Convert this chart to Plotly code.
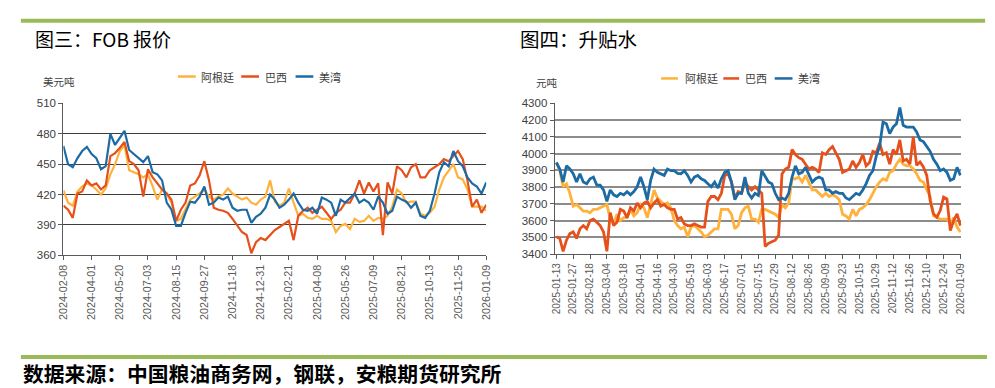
import plotly.graph_objects as go

# ---------------- data ----------------
left_ticks = ["2024-02-08", "2024-04-01", "2024-05-20", "2024-07-03", "2024-08-15", "2024-09-27",
              "2024-11-18", "2024-12-31", "2025-02-21", "2025-04-08", "2025-05-26", "2025-07-09",
              "2025-08-21", "2025-10-13", "2025-11-25", "2026-01-09"]
left_per_tick = 6  # samples between two tick labels

fob_argentina = [424, 412, 409, 423, 428, 431, 429, 425, 420, 426, 440, 450, 463, 469, 444, 442, 440, 437,
                 440, 428, 415, 425, 421, 412, 394, 396, 405, 415, 418, 421, 425, 418, 415, 418, 420, 426,
                 421, 418, 415, 417, 412, 410, 415, 418, 434, 413, 409, 412, 426, 412, 399, 401, 397, 396,
                 399, 396, 396, 394, 383, 389, 391, 386, 396, 393, 394, 399, 394, 397, 396, 399, 408, 425,
                 421, 412, 413, 413, 401, 399, 402, 408, 425, 437, 444, 450, 437, 435, 425, 408, 408, 408, 404]
fob_brazil = [409, 405, 397, 421, 423, 434, 429, 431, 425, 429, 458, 461, 466, 472, 453, 450, 444, 418,
              445, 437, 431, 425, 421, 415, 394, 405, 412, 429, 431, 439, 453, 434, 407, 405, 404, 402,
              396, 389, 383, 380, 362, 373, 377, 375, 380, 385, 388, 391, 394, 375, 399, 404, 407, 402,
              405, 408, 402, 396, 402, 405, 412, 412, 421, 434, 421, 432, 423, 431, 380, 432, 421, 448,
              444, 437, 447, 450, 437, 437, 444, 447, 450, 455, 453, 458, 463, 455, 434, 408, 415, 402, 410]
fob_usgulf = [468, 450, 447, 456, 463, 467, 460, 456, 445, 448, 480, 469, 476, 483, 464, 460, 456, 452,
              458, 442, 440, 434, 412, 405, 389, 389, 402, 413, 412, 418, 428, 410, 412, 417, 415, 418,
              407, 404, 405, 405, 392, 398, 401, 407, 420, 415, 407, 410, 415, 421, 412, 405, 404, 407,
              401, 417, 415, 412, 399, 415, 412, 417, 421, 412, 415, 412, 405, 418, 412, 401, 404, 418,
              415, 413, 407, 412, 399, 397, 404, 421, 442, 452, 448, 463, 453, 448, 437, 431, 428, 421, 432]

right_ticks = ["2025-01-13", "2025-01-27", "2025-02-18", "2025-03-04", "2025-03-18", "2025-04-01",
               "2025-04-16", "2025-04-30", "2025-05-19", "2025-06-03", "2025-06-17", "2025-07-01",
               "2025-07-15", "2025-07-29", "2025-08-12", "2025-08-26", "2025-09-09", "2025-09-23",
               "2025-10-15", "2025-10-29", "2025-11-12", "2025-11-26", "2025-12-10", "2025-12-24",
               "2026-01-09"]
right_per_tick = 5

basis_argentina = [3947, 3898, 3802, 3820, 3763, 3686, 3696, 3676, 3657, 3657, 3647, 3667, 3667, 3676, 3686,
                   3696, 3609, 3580, 3638, 3600, 3618, 3618, 3667, 3628, 3647, 3696, 3676, 3618, 3696, 3783,
                   3735, 3715, 3696, 3705, 3676, 3600, 3570, 3551, 3561, 3503, 3561, 3570, 3551, 3532, 3503,
                   3512, 3532, 3551, 3551, 3667, 3667, 3667, 3638, 3551, 3570, 3647, 3676, 3686, 3609, 3609,
                   3590, 3667, 3667, 3657, 3647, 3638, 3618, 3696, 3676, 3705, 3850, 3850, 3860, 3830, 3870,
                   3821, 3783, 3783, 3763, 3744, 3763, 3744, 3754, 3744, 3725, 3638, 3628, 3609, 3667, 3628,
                   3667, 3676, 3696, 3725, 3763, 3802, 3830, 3850, 3840, 3888, 3898, 3937, 3966, 3937, 3927,
                   3927, 3908, 3879, 3840, 3830, 3783, 3744, 3628, 3618, 3609, 3609, 3609, 3580, 3618, 3561, 3532]
basis_brazil = [3503, 3493, 3416, 3483, 3522, 3532, 3493, 3551, 3570, 3551, 3600, 3609, 3590, 3570, 3532,
                3416, 3647, 3570, 3590, 3667, 3657, 3618, 3676, 3657, 3705, 3676, 3705, 3715, 3676, 3705,
                3725, 3686, 3696, 3676, 3667, 3667, 3609, 3618, 3580, 3570, 3570, 3580, 3570, 3561, 3561,
                3715, 3744, 3744, 3725, 3763, 3870, 3879, 3830, 3735, 3773, 3763, 3830, 3802, 3783, 3802,
                3783, 3763, 3445, 3464, 3474, 3483, 3512, 3879, 3908, 3918, 4024, 3995, 3976, 3966, 3937,
                3908, 3918, 3908, 3888, 4005, 3995, 4024, 4043, 4005, 3966, 3888, 3898, 3908, 3956, 3918,
                3947, 3995, 3927, 3947, 4014, 4005, 4062, 3995, 4005, 3937, 4024, 3995, 4082, 3956, 3966,
                3937, 4100, 3930, 3950, 3920, 3870, 3720, 3640, 3620, 3660, 3740, 3730, 3540, 3600, 3640, 3570]
basis_usgulf = [3947, 3908, 3830, 3927, 3908, 3880, 3830, 3880, 3830, 3820, 3850, 3860, 3812, 3812, 3783,
                3715, 3783, 3754, 3744, 3763, 3754, 3773, 3754, 3773, 3802, 3860, 3802, 3725, 3840, 3908,
                3888, 3880, 3870, 3908, 3898, 3898, 3882, 3880, 3898, 3870, 3830, 3860, 3870, 3850, 3840,
                3820, 3802, 3830, 3794, 3850, 3888, 3898, 3830, 3725, 3763, 3763, 3860, 3763, 3735, 3763,
                3750, 3898, 3860, 3830, 3820, 3763, 3725, 3735, 3725, 3763, 3860, 3927, 3879, 3888, 3918,
                3870, 3830, 3850, 3860, 3850, 3783, 3783, 3763, 3773, 3763, 3763, 3735, 3725, 3744, 3763,
                3754, 3783, 3821, 3870, 3898, 3985, 4043, 4188, 4178, 4120, 4159, 4178, 4275, 4169, 4159,
                4159, 4159, 4130, 4082, 4072, 4043, 4014, 3966, 3937, 3898, 3908, 3888, 3840, 3850, 3918, 3870]

series_names = ["阿根廷", "巴西", "美湾"]
series_colors = ["#FFB13B", "#E5501B", "#1D6BA5"]

# ---------------- layout helpers ----------------
W, H = 995, 388
def px(x):
    return x / W
def py(y):
    return 1 - y / H

CJK = "Noto Sans CJK SC"
NUM = "Liberation Sans"

fig = go.Figure()

left_sets = [fob_argentina, fob_brazil, fob_usgulf]
right_sets = [basis_argentina, basis_brazil, basis_usgulf]

for name, color, vals in zip(series_names, series_colors, left_sets):
    fig.add_trace(go.Scatter(
        x=[i / left_per_tick for i in range(len(vals))], y=vals, mode="lines", name=name,
        line=dict(color=color, width=2.2), showlegend=False, xaxis="x", yaxis="y"))

for name, color, vals in zip(series_names, series_colors, right_sets):
    fig.add_trace(go.Scatter(
        x=[i / right_per_tick for i in range(len(vals))], y=vals, mode="lines", name=name,
        line=dict(color=color, width=2.8), showlegend=False, xaxis="x2", yaxis="y2"))

axis_common = dict(showline=True, linecolor="#5a5a5a", linewidth=1.2, ticks="outside", ticklen=4,
                   tickcolor="#5a5a5a", zeroline=False)

fig.update_layout(
    width=W, height=H, margin=dict(l=0, r=0, t=0, b=0),
    paper_bgcolor="white", plot_bgcolor="white",
    xaxis=dict(domain=[px(50), px(478)], range=[0, len(left_ticks) - 1],
               tickvals=list(range(len(left_ticks))), ticktext=left_ticks, tickangle=-90,
               tickfont=dict(family=NUM, size=10.8, color="#595959"), showgrid=False,
               anchor="y", **axis_common),
    yaxis=dict(domain=[py(249), py(92.3)], range=[360, 510], tick0=360, dtick=30,
               tickfont=dict(family=NUM, size=11.5, color="#404040"),
               showgrid=True, gridcolor="#3c3c3c", gridwidth=1.3, anchor="x", **axis_common),
    xaxis2=dict(domain=[px(547.3), px(959)], range=[-0.1, len(right_ticks) - 1 + 0.06],
                tickvals=list(range(len(right_ticks))), ticktext=right_ticks, tickangle=-90,
                tickfont=dict(family=NUM, size=10, color="#595959"), showgrid=False,
                anchor="y2", **axis_common),
    yaxis2=dict(domain=[py(247.7), py(92.3)], range=[3400, 4300], tick0=3400, dtick=100,
                tickfont=dict(family=NUM, size=11.5, color="#404040"),
                showgrid=True, gridcolor="#8c8c8c", gridwidth=2, anchor="x2", **axis_common),
)

shapes = []
annotations = []

# green rules
for (x0, x1, y0, y1) in [(7, 983, 5, 9), (7, 989, 352, 356)]:
    shapes.append(dict(type="rect", xref="paper", yref="paper", x0=px(x0), x1=px(x1),
                       y0=py(y1), y1=py(y0), fillcolor="#9BBB59", line=dict(width=0), layer="below"))

# titles
annotations.append(dict(text="图三：FOB 报价", x=px(19), y=py(25), xref="paper", yref="paper",
                        xanchor="left", yanchor="middle", showarrow=False,
                        font=dict(family=CJK, size=19, color="#000000")))
annotations.append(dict(text="图四：升贴水", x=px(510), y=py(25), xref="paper", yref="paper",
                        xanchor="left", yanchor="middle", showarrow=False,
                        font=dict(family=CJK, size=19.5, color="#000000")))

# unit labels
annotations.append(dict(text="美元吨", x=px(27), y=py(70), xref="paper", yref="paper",
                        xanchor="left", yanchor="middle", showarrow=False,
                        font=dict(family=CJK, size=10.5, color="#404040")))
annotations.append(dict(text="元吨", x=px(526), y=py(71), xref="paper", yref="paper",
                        xanchor="left", yanchor="middle", showarrow=False,
                        font=dict(family=CJK, size=10.5, color="#404040")))

# legends (manual, one per chart)
legend_rows = [
    (64.5, [(166, 184, 187), (230, 248, 252), (285, 303, 307)]),
    (66.5, [(655, 672, 677), (718, 734, 738), (770, 788, 792)]),
]
for ly, items in legend_rows:
    for (lx0, lx1, tx), name, color in zip(items, series_names, series_colors):
        shapes.append(dict(type="line", xref="paper", yref="paper", x0=px(lx0), x1=px(lx1),
                           y0=py(ly), y1=py(ly), line=dict(color=color, width=2.5)))
        annotations.append(dict(text=name, x=px(tx), y=py(ly), xref="paper", yref="paper",
                                xanchor="left", yanchor="middle", showarrow=False,
                                font=dict(family=CJK, size=11, color="#404040")))

# source note
annotations.append(dict(text="<b>数据来源：中国粮油商务网，钢联，安粮期货研究所</b>", x=px(8), y=py(370.5),
                        xref="paper", yref="paper", xanchor="left", yanchor="middle", showarrow=False,
                        borderpad=0, font=dict(family=CJK, size=20.8, color="#000000")))

fig.update_layout(shapes=shapes, annotations=annotations)

fig.write_html("out.html")
